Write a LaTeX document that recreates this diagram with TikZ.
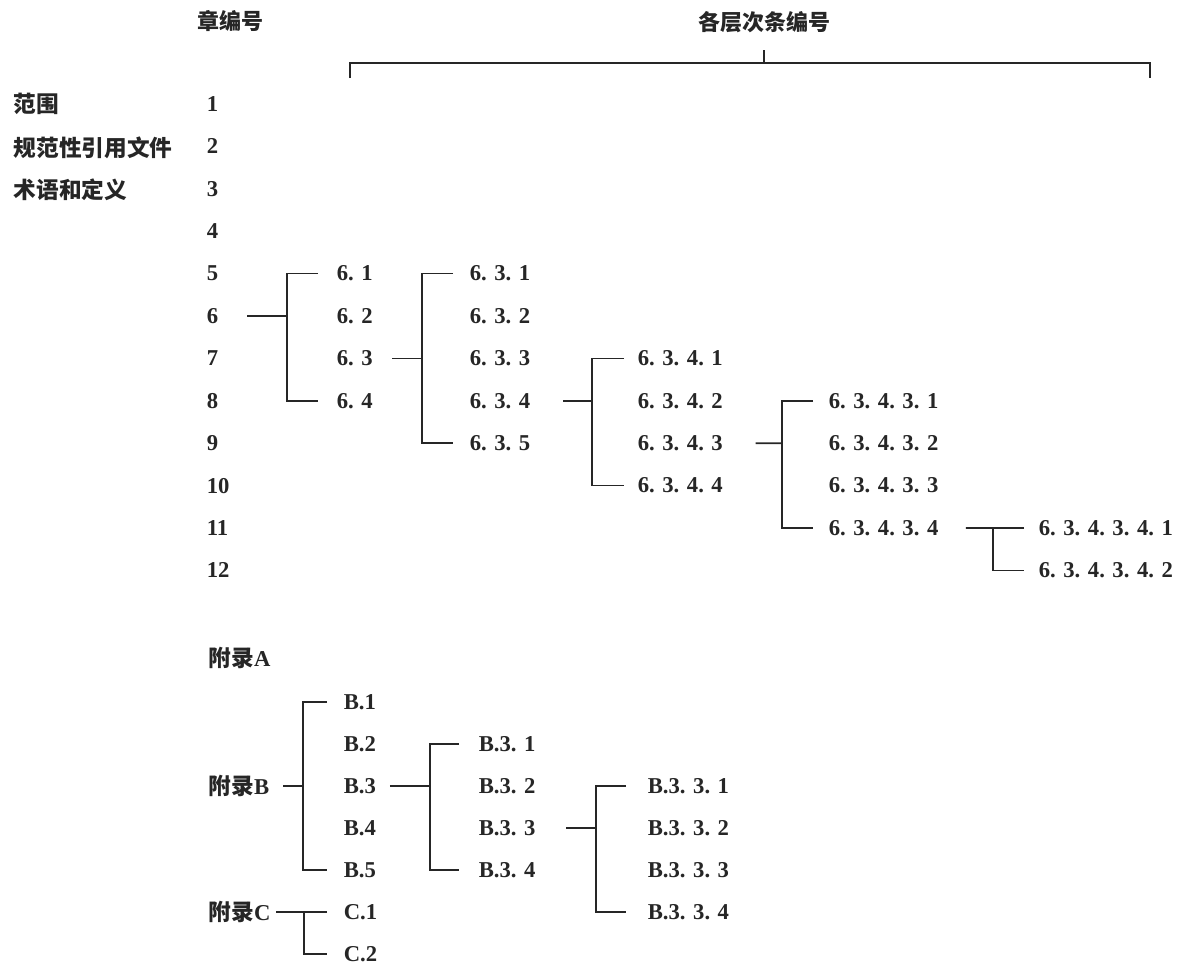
\documentclass[tikz,border=0pt]{standalone}
\usepackage{fontspec}
\setmainfont{Liberation Serif}
\newfontfamily\cjk{Noto Sans CJK SC}
\begin{document}
\begin{tikzpicture}[x=0.75pt,y=-0.75pt,line width=1.25pt,color={black!85},
every node/.style={inner sep=0pt,anchor=west,font=\fontsize{17}{19}\selectfont\bfseries},
zh/.style={font=\fontsize{17}{19}\selectfont\cjk\bfseries}]
\useasboundingbox (0,0) rectangle (1182,965);
\node[zh,anchor=center,font=\fontsize{16.5}{19}\selectfont\cjk\bfseries] (hchap) at (230,21) {章编号};
\node[zh,anchor=center,font=\fontsize{16.5}{19}\selectfont\cjk\bfseries] (hsub) at (764,22) {各层次条编号};
\coordinate (bl) at (350,78);
\coordinate (bm) at (764,63);
\coordinate (br) at (1150,78);
\draw (bl) |- (bm) -| (br);
\draw[shorten >=12pt] (bm) -- (hsub.south);
\node[zh] (fw) at (13,104) {范围};
\node[zh] (gf) at (13,148) {规范性引用文件};
\node[zh] (sy) at (13,190) {术语和定义};
\foreach \n in {1,...,12}
{
\node (n\n) at (206,{104+(\n-1)*42.4}) {\n};
}
\foreach \k in {1,...,4}
{
\node (a\k) at (336,{273.6+(\k-1)*42.4}) {6. \k};
\node (c\k) at (637,{358.4+(\k-1)*42.4}) {6. 3. 4. \k};
\node (d\k) at (828,{400.8+(\k-1)*42.4}) {6. 3. 4. 3. \k};
}
\foreach \k in {1,...,5}
{
\node (b\k) at (469,{273.6+(\k-1)*42.4}) {6. 3. \k};
}
\foreach \k in {1,2}
{
\node (e\k) at (1038,{528+(\k-1)*42.4}) {6. 3. 4. 3. 4. \k};
}
\coordinate (j6) at (287,316);
\coordinate (ja3) at (422,358.4);
\coordinate (jb4) at (592,400.8);
\coordinate (jc3) at (782,443.2);
\coordinate (jd4) at (993,528);
\draw[shorten <=21pt] (n6.east) -- (j6);
\draw[shorten <=13.5pt,shorten >=13.5pt] (a1.west) -| (j6) |- (a4.west);
\draw[shorten <=14pt] (a3.east) -- (ja3);
\draw[shorten <=12pt,shorten >=12pt] (b1.west) -| (ja3) |- (b5.west);
\draw[shorten <=24pt] (b4.east) -- (jb4);
\draw[shorten <=9.75pt,shorten >=9.75pt] (c1.west) -| (jb4) |- (c4.west);
\draw[shorten <=24pt] (c3.east) -- (jc3);
\draw[shorten <=11.25pt,shorten >=11.25pt] (d1.west) -| (jc3) |- (d4.west);
\draw[shorten <=20pt] (d4.east) -- (jd4);
\draw[shorten <=10.5pt,shorten >=10.5pt] (e1.west) -- (jd4) |- (e2.west);
\node (fa) at (208,658) {{\cjk 附录}A};
\node (fb) at (208,786) {{\cjk 附录}B};
\node (fc) at (208,912) {{\cjk 附录}C};
\foreach \k in {1,...,5}
{
\node (ba\k) at (343,{702+(\k-1)*42}) {B.\k};
}
\foreach \k in {1,...,4}
{
\node (bb\k) at (478,{744+(\k-1)*42}) {B.3. \k};
\node (bc\k) at (647,{786+(\k-1)*42}) {B.3. 3. \k};
}
\foreach \k in {1,2}
{
\node (cc\k) at (343,{912+(\k-1)*42}) {C.\k};
}
\coordinate (jfb) at (303,786);
\coordinate (jba3) at (430,786);
\coordinate (jbb3) at (596,828);
\coordinate (jfc) at (304,912);
\draw[shorten <=9.75pt] (fb.east) -- (jfb);
\draw[shorten <=12pt,shorten >=12pt] (ba1.west) -| (jfb) |- (ba5.west);
\draw[shorten <=9.75pt] (ba3.east) -- (jba3);
\draw[shorten <=14.25pt,shorten >=14.25pt] (bb1.west) -| (jba3) |- (bb4.west);
\draw[shorten <=22.5pt] (bb3.east) -- (jbb3);
\draw[shorten <=15.75pt,shorten >=15.75pt] (bc1.west) -| (jbb3) |- (bc4.west);
\draw[shorten <=3.75pt] (fc.east) -- (jfc);
\draw[shorten <=12pt,shorten >=12pt] (cc1.west) -- (jfc) |- (cc2.west);
\end{tikzpicture}
\end{document}
